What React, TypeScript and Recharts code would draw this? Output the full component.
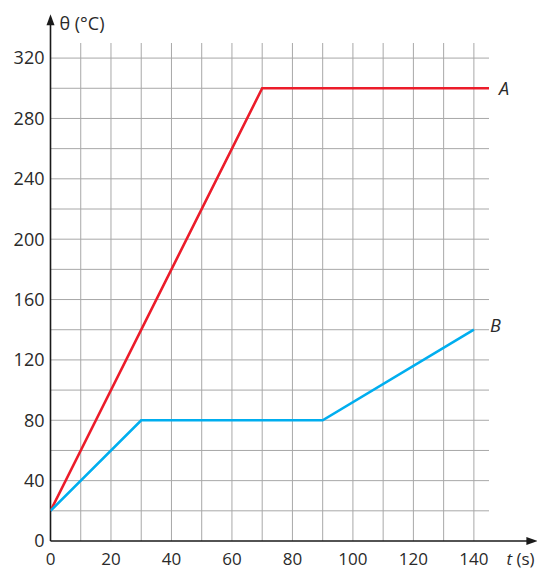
import React from 'react';
import { LineChart, Line, XAxis, YAxis, ReferenceLine, LabelList } from 'recharts';

const seriesA_t = [0, 70, 145];
const seriesA_theta = [20, 300, 300];
const seriesB_t = [0, 30, 90, 140];
const seriesB_theta = [20, 80, 80, 140];
const xTicks = [0, 20, 40, 60, 80, 100, 120, 140];
const yTicks = [0, 40, 80, 120, 160, 200, 240, 280, 320];
const gridX = [10, 20, 30, 40, 50, 60, 70, 80, 90, 100, 110, 120, 130, 140];
const gridY = [20, 40, 60, 80, 100, 120, 140, 160, 180, 200, 220, 240, 260, 280, 300, 320];
const seriesNames = ['A', 'B'];

const dataA = seriesA_t.map((t, i) => ({ t, theta: seriesA_theta[i] }));
const dataB = seriesB_t.map((t, i) => ({ t, theta: seriesB_theta[i] }));

const FONT = '"Open Sans", "Noto Sans", sans-serif';
const TEXT = '#2a2a2a';

const makeEndLabel = (name: string, n: number, dx: number, dy: number) => (props: any) => {
  const { x, y, index } = props;
  if (index !== n - 1) return null;
  return (
    <text x={x + dx} y={y + dy} fontFamily={FONT} fontSize={18} fontStyle="italic" fill={TEXT}>
      {name}
    </text>
  );
};

const XArrow = (props: any) => {
  const { x1, y1, x2, y2 } = props;
  return (
    <g>
      <line x1={x1} y1={y1} x2={x2 - 6} y2={y2} stroke="#1a1a1a" strokeWidth={1.6} />
      <polygon points={`${x2},${y2} ${x2 - 11},${y2 - 4} ${x2 - 11},${y2 + 4}`} fill="#1a1a1a" />
      <text x={x2 - 31} y={y2 + 24} fontFamily={FONT} fontSize={17} fill={TEXT}>
        <tspan fontStyle="italic">t</tspan>
        <tspan> (s)</tspan>
      </text>
    </g>
  );
};

const YArrow = (props: any) => {
  const { x1, y1, x2, y2 } = props;
  const top = Math.min(y1, y2);
  const bottom = Math.max(y1, y2);
  return (
    <g>
      <line x1={x1} y1={bottom} x2={x1} y2={top + 6} stroke="#1a1a1a" strokeWidth={1.6} />
      <polygon points={`${x1},${top} ${x1 - 4},${top + 11} ${x1 + 4},${top + 11}`} fill="#1a1a1a" />
      <text x={x1 + 9} y={top + 16} fontFamily={FONT} fontSize={18} fill={TEXT}>
        θ (°C)
      </text>
    </g>
  );
};

export default function App() {
  return (
    <div style={{ position: 'absolute', left: 0, top: 0, background: '#fff' }}>
      <LineChart
        width={537}
        height={570}
        margin={{ top: 43, right: 48, left: 0, bottom: 0 }}
        style={{ overflow: 'visible' }}
      >
        <XAxis
          type="number"
          dataKey="t"
          domain={[0, 145]}
          ticks={xTicks}
          allowDataOverflow
          height={29}
          axisLine={false}
          tickLine={false}
          tickSize={0}
          tickMargin={12}
          tick={{ fontFamily: FONT, fontSize: 17, fill: TEXT }}
        />
        <YAxis
          type="number"
          dataKey="theta"
          domain={[0, 330]}
          ticks={yTicks}
          allowDataOverflow
          width={50.5}
          axisLine={false}
          tickLine={false}
          tickSize={0}
          tickMargin={6}
          tick={{ fontFamily: FONT, fontSize: 18, fill: TEXT }}
        />
        {gridX.map((gx) => (
          <ReferenceLine key={'gx' + gx} x={gx} stroke="#a8a8a8" strokeWidth={1} />
        ))}
        {gridY.map((gy) => (
          <ReferenceLine key={'gy' + gy} y={gy} stroke="#a8a8a8" strokeWidth={1} />
        ))}
        <ReferenceLine
          segment={[{ x: 0, y: 0 }, { x: 161, y: 0 }]}
          ifOverflow="visible"
          shape={XArrow}
        />
        <ReferenceLine
          segment={[{ x: 0, y: 0 }, { x: 0, y: 349 }]}
          ifOverflow="visible"
          shape={YArrow}
        />
        <Line
          data={dataA}
          dataKey="theta"
          stroke="#ec1c2a"
          strokeWidth={2.6}
          dot={false}
          isAnimationActive={false}
          strokeLinejoin="miter"
        >
          <LabelList dataKey="theta" content={makeEndLabel(seriesNames[0], dataA.length, 10, 7)} />
        </Line>
        <Line
          data={dataB}
          dataKey="theta"
          stroke="#00aeef"
          strokeWidth={2.6}
          dot={false}
          isAnimationActive={false}
          strokeLinejoin="miter"
        >
          <LabelList dataKey="theta" content={makeEndLabel(seriesNames[1], dataB.length, 16, 2)} />
        </Line>
      </LineChart>
    </div>
  );
}
